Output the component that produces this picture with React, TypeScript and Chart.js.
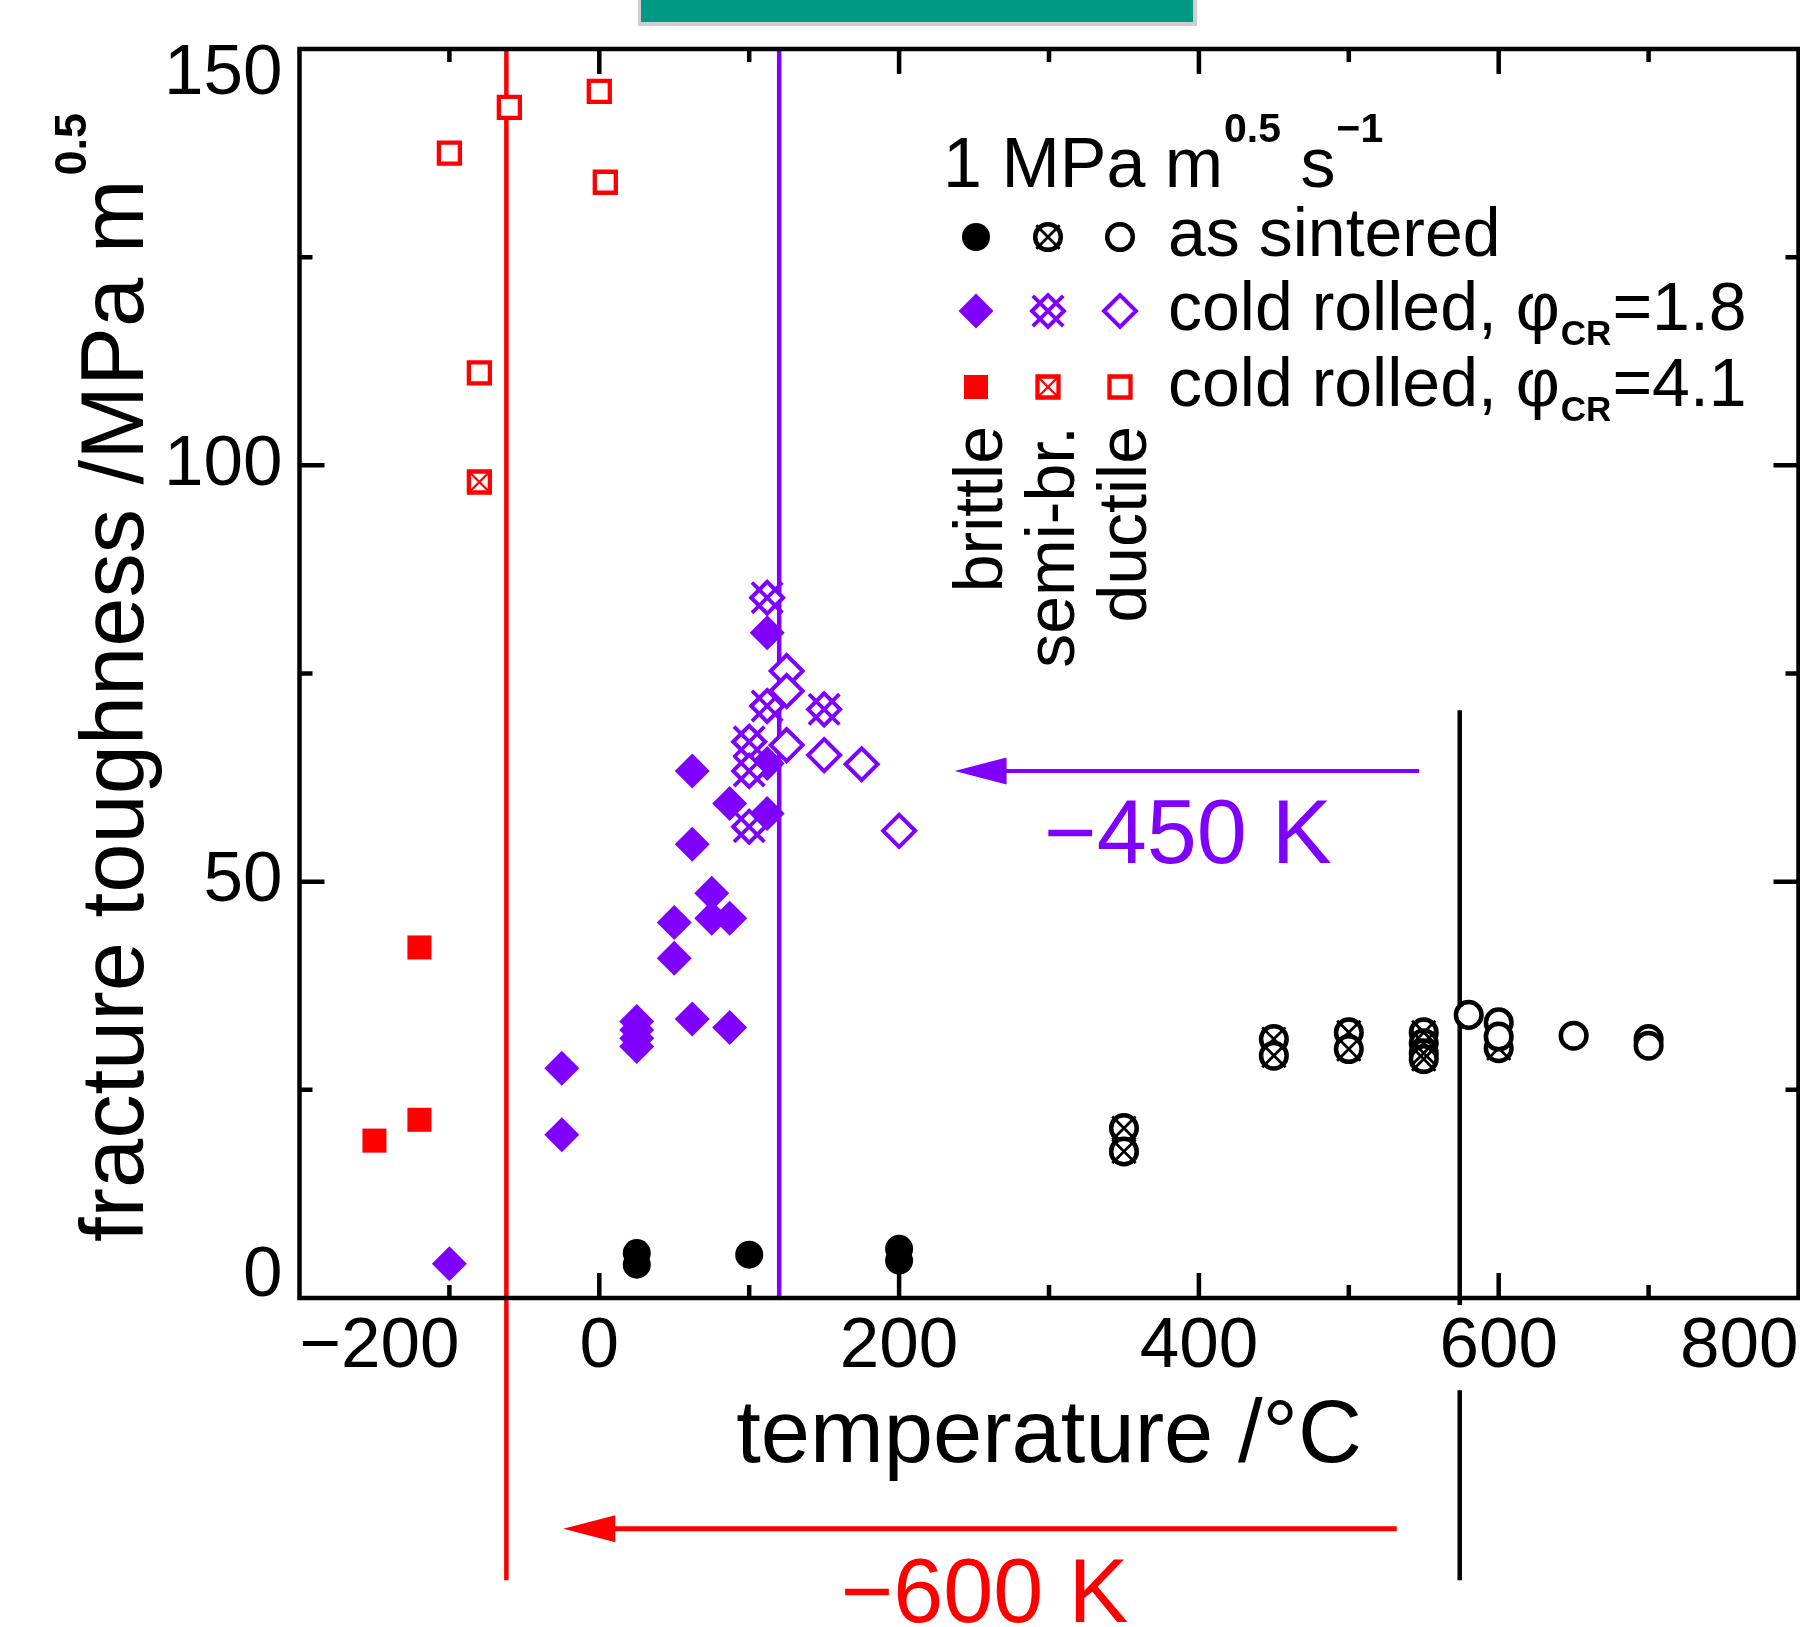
import React, { useEffect, useRef } from 'react';
import { Chart, registerables } from 'chart.js';

Chart.register(...registerables);

const FONT = '"Liberation Sans", Arial, Helvetica, sans-serif';
const RED = '#ff0000';
const PURPLE = '#7f00ff';
const BLACK = '#000000';
const WHITE = '#ffffff';

// ---- axes ----
const X_MIN = -200;
const X_MAX = 800;
const X_STEP = 100;
const X_LABEL_STEP = 200;
const Y_MIN = 0;
const Y_MAX = 150;
const Y_STEP = 25;
const Y_LABEL_STEP = 50;
const X_TITLE = 'temperature /°C';
const Y_TITLE = 'fracture toughness /MPa m';
const Y_TITLE_SUP = '0.5';

// ---- as sintered ----
const AS_BRITTLE_T = [25, 25, 100, 200, 200];
const AS_BRITTLE_K = [5.4, 4.0, 5.2, 5.9, 4.5];
const AS_SEMI_T = [350, 350, 450, 450, 500, 500, 550, 550, 550, 550, 600];
const AS_SEMI_K = [20.4, 17.6, 31.1, 29.1, 31.9, 29.9, 31.9, 30.6, 29.4, 28.7, 30.0];
const AS_DUCTILE_T = [580, 600, 600, 650, 700, 700];
const AS_DUCTILE_K = [34.0, 33.1, 31.4, 31.5, 31.1, 30.3];

// ---- cold rolled, phi = 1.8 ----
const CR18_BRITTLE_T = [-100, -25, -25, 25, 25, 25, 25, 50, 50, 62, 75, 75, 87, 87, 62, 62, 87, 112, 112, 112];
const CR18_BRITTLE_K = [4.1, 19.6, 27.6, 33.2, 32.2, 31.2, 30.2, 45.1, 40.8, 33.5, 48.6, 45.6, 45.6, 32.5, 63.3, 54.5, 59.4, 79.9, 64.2, 58.2];
const CR18_SEMI_T = [112, 112, 150, 100, 100, 100];
const CR18_SEMI_K = [84.1, 71.1, 70.7, 66.8, 63.3, 56.6];
const CR18_DUCTILE_T = [125, 125, 125, 150, 175, 200];
const CR18_DUCTILE_K = [75.3, 72.9, 66.4, 65.2, 64.1, 56.1];

// ---- cold rolled, phi = 4.1 ----
const CR41_BRITTLE_T = [-150, -120, -120];
const CR41_BRITTLE_K = [18.9, 21.4, 42.1];
const CR41_SEMI_T = [-80];
const CR41_SEMI_K = [98.0];
const CR41_DUCTILE_T = [-100, -60, 0, 4, -80];
const CR41_DUCTILE_K = [137.5, 143.0, 144.9, 134.0, 111.1];

// ---- reference lines / arrows (data units) ----
const RED_LINE_T = -62;
const PURPLE_LINE_T = 120;
const BLACK_LINE_T = 574;
const BLACK_LINE_TOP_K = 70.6;
const LINE_BOTTOM_K = -33.9;
const PURPLE_ARROW_T = [547, 237];
const PURPLE_ARROW_K = 63.3;
const RED_ARROW_T = [532, -24];
const RED_ARROW_K = -27.7;
const PURPLE_SHIFT_TEXT = '\u2212450 K';
const PURPLE_SHIFT_POS = [392.7, 52.2];
const RED_SHIFT_TEXT = '\u2212600 K';
const RED_SHIFT_POS = [257, -38.9];

// ---- legend ----
const LEGEND_TITLE = ['1 MPa m', '0.5', ' s', '\u22121'];
const LEGEND_ROWS = [
  { color: BLACK, shape: 'circle', parts: [['as sintered', 'n']] },
  { color: PURPLE, shape: 'diamond', parts: [['cold rolled, \u03c6', 'n'], ['CR', 'sub'], ['=1.8', 'n']] },
  { color: RED, shape: 'square', parts: [['cold rolled, \u03c6', 'n'], ['CR', 'sub'], ['=4.1', 'n']] },
];
const LEGEND_KINDS = ['brittle', 'semi-br.', 'ductile'];

// marker geometry (radius in px, as Chart.js pointRadius)
const MARK = {
  circle: { style: 'circle', filledR: 14, openR: 12.8, openW: 4.5, crossR: 16.5, crossW: 2.8 },
  diamond: { style: 'rectRot', filledR: 17.5, openR: 16, openW: 4, crossR: 21.5, crossW: 3.8 },
  square: { style: 'rect', filledR: 17, openR: 14.85, openW: 4.3, crossR: 14.85, crossW: 2.2 },
};

const pts = (T: number[], K: number[]) => T.map((t, i) => ({ x: t, y: K[i] }));

function series(T: number[], K: number[], color: string, shape: string, kind: string) {
  const m = (MARK as any)[shape];
  const data = pts(T, K);
  const base = { data, showLine: false, clip: false };
  if (kind === 'brittle') {
    return [{ ...base, pointStyle: m.style, pointRadius: m.filledR, pointHoverRadius: m.filledR,
      pointBackgroundColor: color, pointBorderColor: color, pointBorderWidth: 0 }];
  }
  const open = { ...base, pointStyle: m.style, pointRadius: m.openR, pointHoverRadius: m.openR,
    pointBackgroundColor: WHITE, pointBorderColor: color, pointBorderWidth: m.openW };
  if (kind === 'ductile') return [open];
  return [open, { ...base, pointStyle: 'crossRot', pointRadius: m.crossR, pointHoverRadius: m.crossR,
    pointBackgroundColor: 'rgba(0,0,0,0)', pointBorderColor: color, pointBorderWidth: m.crossW }];
}

function buildDatasets() {
  const list = [
    ...series(AS_BRITTLE_T, AS_BRITTLE_K, BLACK, 'circle', 'brittle'),
    ...series(AS_SEMI_T, AS_SEMI_K, BLACK, 'circle', 'semi'),
    ...series(AS_DUCTILE_T, AS_DUCTILE_K, BLACK, 'circle', 'ductile'),
    ...series(CR41_BRITTLE_T, CR41_BRITTLE_K, RED, 'square', 'brittle'),
    ...series(CR41_SEMI_T, CR41_SEMI_K, RED, 'square', 'semi'),
    ...series(CR41_DUCTILE_T, CR41_DUCTILE_K, RED, 'square', 'ductile'),
    ...series(CR18_BRITTLE_T, CR18_BRITTLE_K, PURPLE, 'diamond', 'brittle'),
    ...series(CR18_SEMI_T, CR18_SEMI_K, PURPLE, 'diamond', 'semi'),
    ...series(CR18_DUCTILE_T, CR18_DUCTILE_K, PURPLE, 'diamond', 'ductile'),
  ];
  // paint in list order: later items on top
  return list.map((d, i) => ({ ...d, order: list.length - i }));
}

const fmt = (v: number) => (v < 0 ? '\u2212' + Math.abs(v) : String(v));

// ---- drawing helpers for legend symbols ----
function drawSymbol(ctx: CanvasRenderingContext2D, shape: string, kind: string, x: number, y: number, color: string) {
  const m = (MARK as any)[shape];
  const path = (r: number) => {
    ctx.beginPath();
    if (shape === 'circle') ctx.arc(x, y, r, 0, Math.PI * 2);
    else if (shape === 'diamond') {
      ctx.moveTo(x - r, y); ctx.lineTo(x, y - r); ctx.lineTo(x + r, y); ctx.lineTo(x, y + r); ctx.closePath();
    } else {
      const s = r * Math.SQRT1_2;
      ctx.rect(x - s, y - s, 2 * s, 2 * s);
    }
  };
  ctx.save();
  if (kind === 'brittle') {
    path(m.filledR); ctx.fillStyle = color; ctx.fill();
  } else {
    path(m.openR); ctx.fillStyle = WHITE; ctx.fill();
    ctx.strokeStyle = color; ctx.lineWidth = m.openW; ctx.stroke();
    if (kind === 'semi') {
      const d = m.crossR * Math.SQRT1_2;
      ctx.beginPath();
      ctx.moveTo(x - d, y - d); ctx.lineTo(x + d, y + d);
      ctx.moveTo(x + d, y - d); ctx.lineTo(x - d, y + d);
      ctx.lineWidth = m.crossW; ctx.stroke();
    }
  }
  ctx.restore();
}

function drawArrow(ctx: CanvasRenderingContext2D, xTail: number, xTip: number, y: number, color: string, lw: number) {
  const headL = 52;
  const headW = 13.5;
  ctx.save();
  ctx.strokeStyle = color; ctx.fillStyle = color; ctx.lineWidth = lw;
  ctx.beginPath(); ctx.moveTo(xTail, y); ctx.lineTo(xTip + headL - 1, y); ctx.stroke();
  ctx.beginPath(); ctx.moveTo(xTip, y); ctx.lineTo(xTip + headL, y - headW); ctx.lineTo(xTip + headL, y + headW); ctx.closePath(); ctx.fill();
  ctx.restore();
}

const overlayPlugin = {
  id: 'overlay',
  beforeDatasetsDraw(chart: any) {
    const { ctx } = chart;
    const xs = chart.scales.x;
    const ys = chart.scales.y;
    ctx.save();
    // header bar
    ctx.fillStyle = '#cfcfcf';
    ctx.fillRect(638, 0, 559, 26);
    ctx.fillStyle = '#009a84';
    ctx.fillRect(641, 0, 552, 22);
    // vertical reference lines
    const lines = [
      { t: RED_LINE_T, k0: Y_MAX, k1: LINE_BOTTOM_K, c: RED },
      { t: PURPLE_LINE_T, k0: Y_MAX, k1: Y_MIN, c: PURPLE },
      { t: BLACK_LINE_T, k0: BLACK_LINE_TOP_K, k1: LINE_BOTTOM_K, c: BLACK },
    ];
    ctx.lineWidth = 4.5;
    for (const l of lines) {
      const px = xs.getPixelForValue(l.t);
      ctx.strokeStyle = l.c;
      ctx.beginPath();
      ctx.moveTo(px, ys.getPixelForValue(l.k0));
      ctx.lineTo(px, ys.getPixelForValue(l.k1));
      ctx.stroke();
    }
    ctx.restore();
  },
  afterDraw(chart: any) {
    const { ctx, chartArea: a } = chart;
    const xs = chart.scales.x;
    const ys = chart.scales.y;
    ctx.save();
    // frame
    ctx.strokeStyle = BLACK;
    ctx.lineWidth = 4.5;
    ctx.lineJoin = 'miter';
    ctx.strokeRect(a.left, a.top, a.right - a.left, a.bottom - a.top);
    // inward ticks on all four sides
    ctx.beginPath();
    for (let v = X_MIN + X_STEP; v < X_MAX; v += X_STEP) {
      const len = v % X_LABEL_STEP === 0 ? 25 : 13;
      const px = xs.getPixelForValue(v);
      ctx.moveTo(px, a.bottom); ctx.lineTo(px, a.bottom - len);
      ctx.moveTo(px, a.top); ctx.lineTo(px, a.top + len);
    }
    for (let v = Y_MIN + Y_STEP; v < Y_MAX; v += Y_STEP) {
      const len = v % Y_LABEL_STEP === 0 ? 25 : 13;
      const py = ys.getPixelForValue(v);
      ctx.moveTo(a.left, py); ctx.lineTo(a.left + len, py);
      ctx.moveTo(a.right, py); ctx.lineTo(a.right - len, py);
    }
    ctx.stroke();

    // arrows
    drawArrow(ctx, xs.getPixelForValue(PURPLE_ARROW_T[0]), xs.getPixelForValue(PURPLE_ARROW_T[1]), ys.getPixelForValue(PURPLE_ARROW_K), PURPLE, 4);
    drawArrow(ctx, xs.getPixelForValue(RED_ARROW_T[0]), xs.getPixelForValue(RED_ARROW_T[1]), ys.getPixelForValue(RED_ARROW_K), RED, 5);

    // shift labels
    ctx.textBaseline = 'alphabetic';
    ctx.textAlign = 'center';
    ctx.font = `90px ${FONT}`;
    ctx.fillStyle = PURPLE;
    ctx.fillText(PURPLE_SHIFT_TEXT, xs.getPixelForValue(PURPLE_SHIFT_POS[0]), ys.getPixelForValue(PURPLE_SHIFT_POS[1]));
    ctx.fillStyle = RED;
    ctx.fillText(RED_SHIFT_TEXT, xs.getPixelForValue(RED_SHIFT_POS[0]), ys.getPixelForValue(RED_SHIFT_POS[1]));

    // y axis title (rotated, with superscript)
    ctx.fillStyle = BLACK;
    ctx.textAlign = 'left';
    ctx.save();
    ctx.translate(143, 1242);
    ctx.rotate(-Math.PI / 2);
    ctx.font = `88.5px ${FONT}`;
    ctx.fillText(Y_TITLE, 0, 0);
    const mw = ctx.measureText(Y_TITLE).width;
    ctx.font = `bold 45px ${FONT}`;
    ctx.fillText(Y_TITLE_SUP, mw + 4, -57);
    ctx.restore();

    // legend title
    let lx = 943;
    const big = `70px ${FONT}`;
    const row = `68px ${FONT}`;
    const sup = `bold 41px ${FONT}`;
    LEGEND_TITLE.forEach((s, i) => {
      const isSup = i % 2 === 1;
      ctx.font = isSup ? sup : big;
      ctx.fillText(s, lx + (isSup ? 1 : 0), isSup ? 142 : 187);
      lx += ctx.measureText(s).width + (isSup ? 1 : 0);
    });

    // legend rows
    const colX = [976, 1048, 1120];
    const rowY = [237, 311, 387];
    const kinds = ['brittle', 'semi', 'ductile'];
    LEGEND_ROWS.forEach((r0, r) => {
      kinds.forEach((k, c) => drawSymbol(ctx, r0.shape, k, colX[c], rowY[r], r0.color));
      let tx = 1168;
      const base = rowY[r] + 19;
      ctx.fillStyle = BLACK;
      for (const [txt, kind] of r0.parts) {
        if (kind === 'sub') {
          ctx.font = `bold 35px ${FONT}`;
          ctx.fillText(txt, tx + 1, base + 15);
          tx += ctx.measureText(txt).width + 2;
        } else {
          ctx.font = row;
          ctx.fillText(txt, tx, base);
          tx += ctx.measureText(txt).width;
        }
      }
    });

    // rotated column labels
    ctx.font = row;
    ctx.textAlign = 'right';
    const baseX = [1002, 1074, 1146];
    LEGEND_KINDS.forEach((s, i) => {
      ctx.save();
      ctx.translate(baseX[i], 426);
      ctx.rotate(-Math.PI / 2);
      ctx.fillText(s, 0, 0);
      ctx.restore();
    });
    ctx.restore();
  },
};

export default function App() {
  const ref = useRef<HTMLCanvasElement>(null);
  useEffect(() => {
    document.body.style.margin = '0';
    Chart.defaults.font.family = FONT;
    Chart.defaults.color = BLACK;
    const chart = new Chart(ref.current as HTMLCanvasElement, {
      type: 'scatter',
      data: { datasets: buildDatasets() as any },
      options: {
        responsive: false,
        maintainAspectRatio: false,
        devicePixelRatio: 1,
        animation: false,
        events: [],
        layout: { autoPadding: false, padding: { top: 49, right: 1.5, bottom: 0, left: 0 } },
        plugins: { legend: { display: false }, tooltip: { enabled: false }, title: { display: false } },
        scales: {
          x: {
            type: 'linear',
            min: X_MIN,
            max: X_MAX,
            grid: { display: false, drawTicks: false },
            border: { display: false },
            afterFit: (s: any) => { s.height = 329; s.paddingLeft = 0; s.paddingRight = 0; },
            ticks: {
              stepSize: X_STEP,
              autoSkip: false,
              maxRotation: 0,
              minRotation: 0,
              align: 'inner',
              padding: 7,
              z: 1,
              color: BLACK,
              font: { size: 71, lineHeight: 1.2 },
              showLabelBackdrop: true,
              backdropColor: WHITE,
              backdropPadding: 0,
              callback: (v: any) => (Number(v) % X_LABEL_STEP === 0 ? fmt(Number(v)) : ''),
            },
            title: {
              display: true,
              text: X_TITLE,
              color: BLACK,
              font: { size: 88.5, lineHeight: 1.2 },
              padding: { top: 0, bottom: 136 },
            },
          },
          y: {
            type: 'linear',
            min: Y_MIN,
            max: Y_MAX,
            grid: { display: false, drawTicks: false },
            border: { display: false },
            afterFit: (s: any) => { s.width = 299.5; s.paddingTop = 0; s.paddingBottom = 0; },
            ticks: {
              stepSize: Y_STEP,
              autoSkip: false,
              padding: 17,
              color: BLACK,
              font: (c: any) => ({ size: 71, lineHeight: c.tick && c.tick.value === Y_MIN ? 0.6 : 0.72 }),
              callback: (v: any) => {
                const n = Number(v);
                if (n === Y_MAX) return ['', fmt(n)];
                if (n === Y_MIN) return [fmt(n), ''];
                return n % Y_LABEL_STEP === 0 ? fmt(n) : '';
              },
            },
          },
        },
      } as any,
      plugins: [overlayPlugin],
    });
    return () => chart.destroy();
  }, []);
  return (
    <div style={{ position: 'absolute', left: 0, top: 0, width: 1800, height: 1627, background: WHITE }}>
      <canvas ref={ref} width={1800} height={1627} style={{ display: 'block', width: 1800, height: 1627 }} />
    </div>
  );
}
